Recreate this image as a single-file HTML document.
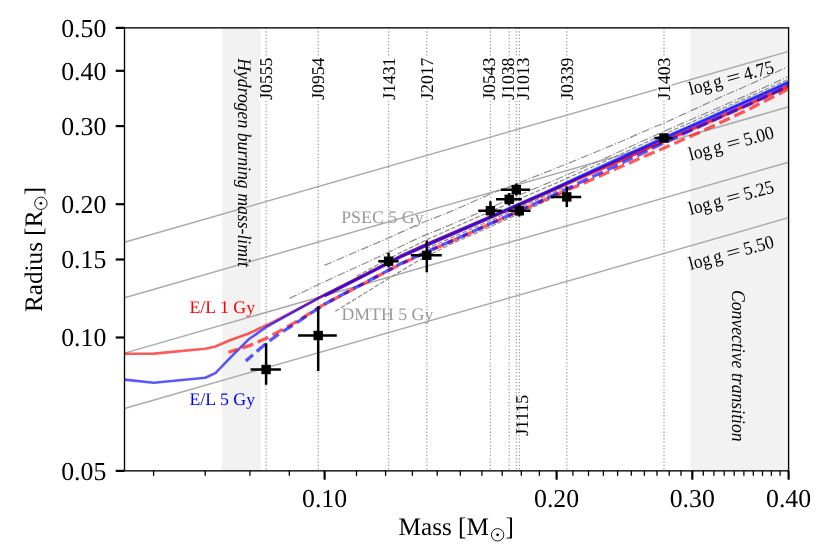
<!DOCTYPE html>
<html><head><meta charset="utf-8"><title>Mass-Radius</title>
<style>html,body{margin:0;padding:0;background:#fff;}svg{display:block;will-change:transform;}text{font-family:"Liberation Serif",serif;text-rendering:geometricPrecision;}</style></head><body>
<svg width="830" height="554" viewBox="0 0 830 554">
<rect x="0" y="0" width="830" height="554" fill="#ffffff"/>
<rect x="222.2" y="27.85" width="38.5" height="443.0" fill="#f2f2f2"/>
<rect x="690.2" y="27.85" width="98.4" height="443.0" fill="#f2f2f2"/>
<defs><clipPath id="c"><rect x="124.5" y="27.85" width="664.1" height="443.0"/></clipPath></defs>
<g clip-path="url(#c)">
<line x1="124.5" y1="242.3" x2="788.6" y2="51.4" stroke="#ababab" stroke-width="1.45"/>
<line x1="124.5" y1="297.7" x2="788.6" y2="106.8" stroke="#ababab" stroke-width="1.45"/>
<line x1="124.5" y1="353.1" x2="788.6" y2="162.2" stroke="#ababab" stroke-width="1.45"/>
<line x1="124.5" y1="408.5" x2="788.6" y2="217.6" stroke="#ababab" stroke-width="1.45"/>
<line x1="266.1" y1="27.85" x2="266.1" y2="470.9" stroke="#9a9a9a" stroke-width="1.25" stroke-dasharray="1.25 2.06"/>
<line x1="318.2" y1="27.85" x2="318.2" y2="470.9" stroke="#9a9a9a" stroke-width="1.25" stroke-dasharray="1.25 2.06"/>
<line x1="388.6" y1="27.85" x2="388.6" y2="470.9" stroke="#9a9a9a" stroke-width="1.25" stroke-dasharray="1.25 2.06"/>
<line x1="426.8" y1="27.85" x2="426.8" y2="470.9" stroke="#9a9a9a" stroke-width="1.25" stroke-dasharray="1.25 2.06"/>
<line x1="490.4" y1="27.85" x2="490.4" y2="470.9" stroke="#9a9a9a" stroke-width="1.25" stroke-dasharray="1.25 2.06"/>
<line x1="509.2" y1="27.85" x2="509.2" y2="470.9" stroke="#9a9a9a" stroke-width="1.25" stroke-dasharray="1.25 2.06"/>
<line x1="516.3" y1="27.85" x2="516.3" y2="470.9" stroke="#9a9a9a" stroke-width="1.25" stroke-dasharray="1.25 2.06"/>
<line x1="519.3" y1="27.85" x2="519.3" y2="470.9" stroke="#9a9a9a" stroke-width="1.25" stroke-dasharray="1.25 2.06"/>
<line x1="566.8" y1="27.85" x2="566.8" y2="470.9" stroke="#9a9a9a" stroke-width="1.25" stroke-dasharray="1.25 2.06"/>
<line x1="664.0" y1="27.85" x2="664.0" y2="470.9" stroke="#9a9a9a" stroke-width="1.25" stroke-dasharray="1.25 2.06"/>
<path d="M324.4,265.4 L388.4,238.0 L420.0,223.6 L446.7,213.1 L460.0,207.5 L489.7,194.3 L520.0,182.5 L566.8,163.9 L620.0,142.0 L650.0,128.7 L663.4,123.4 L720.0,97.4 L750.0,84.4 L787.6,66.8" fill="none" stroke="#8c8c8c" stroke-width="1.2" stroke-dasharray="8 2 1.25 2"/>
<path d="M289.5,298.4 L317.9,284.8 L380.0,256.3 L420.0,237.3 L450.0,225.0 L480.0,212.3 L520.0,194.7 L550.0,182.2 L566.8,174.9 L600.0,160.5 L663.4,131.6 L750.0,93.9 L787.6,76.9" fill="none" stroke="#8c8c8c" stroke-width="1.2" stroke-dasharray="8 2 1.25 2"/>
<path d="M356.7,276.1 L400.0,252.9 L428.0,239.1 L470.0,220.4 L520.0,198.7 L566.8,178.4 L620.0,154.5 L663.4,134.4 L750.0,96.4 L787.6,79.8" fill="none" stroke="#8c8c8c" stroke-width="1.2" stroke-dasharray="4.6 2"/>
<path d="M335.3,311.3 L366.0,292.4 L388.7,278.5 L420.0,259.7 L450.0,244.5 L490.0,226.9 L530.0,208.7 L566.8,191.5" fill="none" stroke="#8c8c8c" stroke-width="1.2" stroke-dasharray="4.6 2"/>
<path d="M426.0,248.7 L450.0,238.4 L490.0,220.7 L530.0,202.9 L566.8,186.5" fill="none" stroke="#8c8c8c" stroke-width="1.2" stroke-dasharray="4.6 2"/>
<path d="M124.5,353.7 L153.8,353.6 L205.3,348.8 L215.4,346.5 L229.9,340.2 L248.7,333.5 L267.5,324.8 L293.5,311.4 L310.0,302.6 L324.5,294.9 L370.0,271.8 L400.0,256.3 L430.0,242.8 L460.0,229.8 L490.0,216.9 L520.0,203.9 L550.0,190.7 L566.8,183.3 L580.0,177.4 L620.0,160.2 L663.4,140.8 L700.0,125.1 L750.0,103.1 L788.4,85.5" fill="none" stroke="rgba(255,0,0,0.65)" stroke-width="2.6" stroke-linejoin="round"/>
<path d="M124.5,379.6 L153.8,382.8 L205.3,377.7 L215.4,373.1 L232.8,355.2 L248.7,339.3 L267.5,326.3 L293.5,311.8 L310.0,302.8 L324.5,294.9 L370.0,271.8 L400.0,256.3 L430.0,242.8 L460.0,229.8 L490.0,216.8 L520.0,203.4 L550.0,190.1 L566.8,182.4 L580.0,176.3 L620.0,157.8 L663.4,137.8 L700.0,121.6 L750.0,99.3 L788.4,81.9" fill="none" stroke="rgba(0,0,255,0.65)" stroke-width="2.6" stroke-linejoin="round"/>
<path d="M324.5,296.1 L370.0,272.9 L400.0,257.4 L430.0,244.0 L460.0,231.0 L490.0,218.1 L520.0,205.0 L550.0,191.8 L566.8,184.4 L580.0,178.6 L620.0,161.3 L663.4,141.9 L700.0,126.2 L750.0,104.2 L788.4,86.6" fill="none" stroke="rgba(255,0,0,0.65)" stroke-width="2.6" stroke-linejoin="round"/>
<path d="M324.5,296.1 L370.0,272.9 L400.0,257.4 L430.0,244.0 L460.0,231.0 L490.0,217.9 L520.0,204.5 L550.0,191.2 L566.8,183.5 L580.0,177.4 L620.0,159.0 L663.4,138.9 L700.0,122.7 L750.0,100.4 L788.4,83.0" fill="none" stroke="rgba(0,0,255,0.65)" stroke-width="2.6" stroke-linejoin="round"/>
<path d="M228.5,352.3 L248.7,345.9 L267.5,337.8 L293.5,323.4 L324.5,304.2 L370.0,280.3 L400.0,264.4 L430.0,250.6 L460.0,237.5 L490.0,224.0 L513.6,213.6 L529.0,206.7 L550.0,197.4 L566.8,190.0 L580.0,184.8 L620.0,167.0 L663.4,148.2 L700.0,132.1 L750.0,108.7 L788.4,88.9" fill="none" stroke="rgba(255,0,0,0.65)" stroke-width="3.3" stroke-dasharray="11.5 5.0" stroke-dashoffset="2"/>
<path d="M245.8,361.0 L267.5,342.2 L282.0,332.0 L293.5,324.8 L324.5,304.2 L370.0,280.0 L400.0,264.1 L430.0,250.3 L460.0,237.2 L490.0,223.7 L513.6,213.3 L529.0,206.3 L550.0,196.8 L566.8,189.0 L580.0,182.5 L620.0,163.9 L663.4,143.1 L700.0,126.3 L750.0,103.9 L788.4,86.1" fill="none" stroke="rgba(0,0,255,0.65)" stroke-width="3.3" stroke-dasharray="11.5 5.0" stroke-dashoffset="2"/>
<line x1="250.6" y1="369.5" x2="280.9" y2="369.5" stroke="#000" stroke-width="2.5"/>
<line x1="266.1" y1="343.2" x2="266.1" y2="384.8" stroke="#000" stroke-width="2.5"/>
<rect x="261.4" y="364.8" width="9.4" height="9.4" fill="#000"/>
<line x1="298.0" y1="335.5" x2="336.8" y2="335.5" stroke="#000" stroke-width="2.5"/>
<line x1="318.2" y1="306.2" x2="318.2" y2="370.9" stroke="#000" stroke-width="2.5"/>
<rect x="313.5" y="330.8" width="9.4" height="9.4" fill="#000"/>
<line x1="378.2" y1="261.2" x2="398.6" y2="261.2" stroke="#000" stroke-width="2.5"/>
<line x1="388.6" y1="253.0" x2="388.6" y2="267.6" stroke="#000" stroke-width="2.5"/>
<rect x="383.9" y="256.5" width="9.4" height="9.4" fill="#000"/>
<line x1="410.8" y1="255.3" x2="441.8" y2="255.3" stroke="#000" stroke-width="2.5"/>
<line x1="426.8" y1="240.5" x2="426.8" y2="272.2" stroke="#000" stroke-width="2.5"/>
<rect x="422.1" y="250.6" width="9.4" height="9.4" fill="#000"/>
<line x1="478.2" y1="210.7" x2="502.1" y2="210.7" stroke="#000" stroke-width="2.5"/>
<line x1="490.4" y1="201.3" x2="490.4" y2="218.0" stroke="#000" stroke-width="2.5"/>
<rect x="485.7" y="206.0" width="9.4" height="9.4" fill="#000"/>
<line x1="496.0" y1="199.3" x2="521.7" y2="199.3" stroke="#000" stroke-width="2.5"/>
<line x1="509.2" y1="192.9" x2="509.2" y2="205.4" stroke="#000" stroke-width="2.5"/>
<rect x="504.5" y="194.6" width="9.4" height="9.4" fill="#000"/>
<line x1="501.0" y1="189.7" x2="530.2" y2="189.7" stroke="#000" stroke-width="2.5"/>
<line x1="516.3" y1="183.5" x2="516.3" y2="195.4" stroke="#000" stroke-width="2.5"/>
<rect x="511.6" y="185.0" width="9.4" height="9.4" fill="#000"/>
<line x1="508.4" y1="210.8" x2="530.5" y2="210.8" stroke="#000" stroke-width="2.5"/>
<line x1="519.3" y1="204.2" x2="519.3" y2="216.6" stroke="#000" stroke-width="2.5"/>
<rect x="514.6" y="206.1" width="9.4" height="9.4" fill="#000"/>
<line x1="550.8" y1="196.9" x2="581.2" y2="196.9" stroke="#000" stroke-width="2.5"/>
<line x1="566.8" y1="186.6" x2="566.8" y2="207.0" stroke="#000" stroke-width="2.5"/>
<rect x="562.1" y="192.2" width="9.4" height="9.4" fill="#000"/>
<line x1="654.3" y1="138.0" x2="673.0" y2="138.0" stroke="#000" stroke-width="2.5"/>
<line x1="664.0" y1="134.0" x2="664.0" y2="142.0" stroke="#000" stroke-width="2.5"/>
<rect x="659.3" y="133.3" width="9.4" height="9.4" fill="#000"/>
</g>
<rect x="259.2" y="56.4" width="14.6" height="44.6" fill="#fff" fill-opacity="0.85"/>
<text transform="translate(272.2,99.8) rotate(-90) scale(1,1.02)" font-size="17.7" fill="#000">J0555</text>
<rect x="311.3" y="56.4" width="14.6" height="44.6" fill="#fff" fill-opacity="0.85"/>
<text transform="translate(324.3,99.8) rotate(-90) scale(1,1.02)" font-size="17.7" fill="#000">J0954</text>
<rect x="381.7" y="56.4" width="14.6" height="44.6" fill="#fff" fill-opacity="0.85"/>
<text transform="translate(394.7,99.8) rotate(-90) scale(1,1.02)" font-size="17.7" fill="#000">J1431</text>
<rect x="419.9" y="56.4" width="14.6" height="44.6" fill="#fff" fill-opacity="0.85"/>
<text transform="translate(432.9,99.8) rotate(-90) scale(1,1.02)" font-size="17.7" fill="#000">J2017</text>
<rect x="481.5" y="56.4" width="14.6" height="44.6" fill="#fff" fill-opacity="0.85"/>
<text transform="translate(494.5,99.8) rotate(-90) scale(1,1.02)" font-size="17.7" fill="#000">J0543</text>
<rect x="500.8" y="56.4" width="14.6" height="44.6" fill="#fff" fill-opacity="0.85"/>
<text transform="translate(513.8,99.8) rotate(-90) scale(1,1.02)" font-size="17.7" fill="#000">J1038</text>
<rect x="516.1" y="56.4" width="14.6" height="44.6" fill="#fff" fill-opacity="0.85"/>
<text transform="translate(529.1,99.8) rotate(-90) scale(1,1.02)" font-size="17.7" fill="#000">J1013</text>
<text transform="translate(528.0,435.8) rotate(-90) scale(1,1.02)" font-size="17.7" fill="#000">J1115</text>
<rect x="559.9" y="56.4" width="14.6" height="44.6" fill="#fff" fill-opacity="0.85"/>
<text transform="translate(572.9,99.8) rotate(-90) scale(1,1.02)" font-size="17.7" fill="#000">J0339</text>
<rect x="657.1" y="56.4" width="14.6" height="44.6" fill="#fff" fill-opacity="0.85"/>
<text transform="translate(670.1,99.8) rotate(-90) scale(1,1.02)" font-size="17.7" fill="#000">J1403</text>
<text transform="translate(238.2,58.2) rotate(90) scale(1,1.08)" font-size="17.7" font-style="italic" fill="#000">Hydrogen burning mass-limit</text>
<text transform="translate(732.0,289.9) rotate(90) scale(1,1.1)" font-size="17.7" font-style="italic" fill="#000">Convective transition</text>
<text x="189.4" y="312.6" font-size="17.7" fill="#ff0000" textLength="65.7" lengthAdjust="spacingAndGlyphs">E/L 1 Gy</text>
<text x="189.4" y="405.0" font-size="17.7" fill="#0000ff" textLength="65.7" lengthAdjust="spacingAndGlyphs">E/L 5 Gy</text>
<text x="341.2" y="222.7" font-size="17.7" fill="#999999" textLength="82.4" lengthAdjust="spacingAndGlyphs">PSEC 5 Gy</text>
<text x="341.4" y="319.6" font-size="17.7" fill="#999999" textLength="92.0" lengthAdjust="spacingAndGlyphs">DMTH 5 Gy</text>
<g transform="translate(690.6,95.0) rotate(-15.0) scale(1,1.07)" font-size="17.7" fill="#000"><text x="0" y="0" textLength="22.2" lengthAdjust="spacingAndGlyphs">log</text><text x="25.1" y="0">g</text><text transform="translate(39.1,0) scale(1.42,1)" x="0" y="0">=</text><text x="56.5" y="0">4.75</text></g>
<g transform="translate(690.6,160.5) rotate(-15.0) scale(1,1.07)" font-size="17.7" fill="#000"><text x="0" y="0" textLength="22.2" lengthAdjust="spacingAndGlyphs">log</text><text x="25.1" y="0">g</text><text transform="translate(39.1,0) scale(1.42,1)" x="0" y="0">=</text><text x="56.5" y="0">5.00</text></g>
<g transform="translate(690.6,214.9) rotate(-15.0) scale(1,1.07)" font-size="17.7" fill="#000"><text x="0" y="0" textLength="22.2" lengthAdjust="spacingAndGlyphs">log</text><text x="25.1" y="0">g</text><text transform="translate(39.1,0) scale(1.42,1)" x="0" y="0">=</text><text x="56.5" y="0">5.25</text></g>
<g transform="translate(690.6,269.9) rotate(-15.0) scale(1,1.07)" font-size="17.7" fill="#000"><text x="0" y="0" textLength="22.2" lengthAdjust="spacingAndGlyphs">log</text><text x="25.1" y="0">g</text><text transform="translate(39.1,0) scale(1.42,1)" x="0" y="0">=</text><text x="56.5" y="0">5.50</text></g>
<rect x="124.5" y="27.85" width="664.1" height="443.0" fill="none" stroke="#000" stroke-width="1.35"/>
<line x1="115.7" y1="470.9" x2="124.5" y2="470.9" stroke="#000" stroke-width="2.2"/>
<text x="106.3" y="479.6" font-size="25.8" text-anchor="end" fill="#000">0.05</text>
<line x1="115.7" y1="337.5" x2="124.5" y2="337.5" stroke="#000" stroke-width="2.2"/>
<text x="106.3" y="346.2" font-size="25.8" text-anchor="end" fill="#000">0.10</text>
<line x1="115.7" y1="259.5" x2="124.5" y2="259.5" stroke="#000" stroke-width="2.2"/>
<text x="106.3" y="268.2" font-size="25.8" text-anchor="end" fill="#000">0.15</text>
<line x1="115.7" y1="204.2" x2="124.5" y2="204.2" stroke="#000" stroke-width="2.2"/>
<text x="106.3" y="212.9" font-size="25.8" text-anchor="end" fill="#000">0.20</text>
<line x1="115.7" y1="126.1" x2="124.5" y2="126.1" stroke="#000" stroke-width="2.2"/>
<text x="106.3" y="134.8" font-size="25.8" text-anchor="end" fill="#000">0.30</text>
<line x1="115.7" y1="70.8" x2="124.5" y2="70.8" stroke="#000" stroke-width="2.2"/>
<text x="106.3" y="79.5" font-size="25.8" text-anchor="end" fill="#000">0.40</text>
<line x1="115.7" y1="27.9" x2="124.5" y2="27.9" stroke="#000" stroke-width="2.2"/>
<text x="106.3" y="36.5" font-size="25.8" text-anchor="end" fill="#000">0.50</text>
<line x1="324.6" y1="470.9" x2="324.6" y2="479.7" stroke="#000" stroke-width="2.2"/>
<text x="324.6" y="506.6" font-size="25.8" text-anchor="middle" fill="#000">0.10</text>
<line x1="556.6" y1="470.9" x2="556.6" y2="479.7" stroke="#000" stroke-width="2.2"/>
<text x="556.6" y="506.6" font-size="25.8" text-anchor="middle" fill="#000">0.20</text>
<line x1="692.3" y1="470.9" x2="692.3" y2="479.7" stroke="#000" stroke-width="2.2"/>
<text x="692.3" y="506.6" font-size="25.8" text-anchor="middle" fill="#000">0.30</text>
<line x1="788.6" y1="470.9" x2="788.6" y2="479.7" stroke="#000" stroke-width="2.2"/>
<text x="788.6" y="506.6" font-size="25.8" text-anchor="middle" fill="#000">0.40</text>
<line x1="153.6" y1="470.9" x2="153.6" y2="475.8" stroke="#000" stroke-width="1.3"/>
<line x1="205.2" y1="470.9" x2="205.2" y2="475.8" stroke="#000" stroke-width="1.3"/>
<line x1="249.9" y1="470.9" x2="249.9" y2="475.8" stroke="#000" stroke-width="1.3"/>
<line x1="289.3" y1="470.9" x2="289.3" y2="475.8" stroke="#000" stroke-width="1.3"/>
<line x1="356.5" y1="470.9" x2="356.5" y2="475.8" stroke="#000" stroke-width="1.3"/>
<line x1="385.6" y1="470.9" x2="385.6" y2="475.8" stroke="#000" stroke-width="1.3"/>
<line x1="412.4" y1="470.9" x2="412.4" y2="475.8" stroke="#000" stroke-width="1.3"/>
<line x1="437.2" y1="470.9" x2="437.2" y2="475.8" stroke="#000" stroke-width="1.3"/>
<line x1="460.3" y1="470.9" x2="460.3" y2="475.8" stroke="#000" stroke-width="1.3"/>
<line x1="481.9" y1="470.9" x2="481.9" y2="475.8" stroke="#000" stroke-width="1.3"/>
<line x1="502.2" y1="470.9" x2="502.2" y2="475.8" stroke="#000" stroke-width="1.3"/>
<line x1="521.3" y1="470.9" x2="521.3" y2="475.8" stroke="#000" stroke-width="1.3"/>
<line x1="539.4" y1="470.9" x2="539.4" y2="475.8" stroke="#000" stroke-width="1.3"/>
<line x1="572.9" y1="470.9" x2="572.9" y2="475.8" stroke="#000" stroke-width="1.3"/>
<line x1="588.5" y1="470.9" x2="588.5" y2="475.8" stroke="#000" stroke-width="1.3"/>
<line x1="603.4" y1="470.9" x2="603.4" y2="475.8" stroke="#000" stroke-width="1.3"/>
<line x1="617.6" y1="470.9" x2="617.6" y2="475.8" stroke="#000" stroke-width="1.3"/>
<line x1="631.3" y1="470.9" x2="631.3" y2="475.8" stroke="#000" stroke-width="1.3"/>
<line x1="644.4" y1="470.9" x2="644.4" y2="475.8" stroke="#000" stroke-width="1.3"/>
<line x1="657.0" y1="470.9" x2="657.0" y2="475.8" stroke="#000" stroke-width="1.3"/>
<line x1="669.2" y1="470.9" x2="669.2" y2="475.8" stroke="#000" stroke-width="1.3"/>
<line x1="681.0" y1="470.9" x2="681.0" y2="475.8" stroke="#000" stroke-width="1.3"/>
<line x1="703.3" y1="470.9" x2="703.3" y2="475.8" stroke="#000" stroke-width="1.3"/>
<line x1="713.9" y1="470.9" x2="713.9" y2="475.8" stroke="#000" stroke-width="1.3"/>
<line x1="724.2" y1="470.9" x2="724.2" y2="475.8" stroke="#000" stroke-width="1.3"/>
<line x1="734.2" y1="470.9" x2="734.2" y2="475.8" stroke="#000" stroke-width="1.3"/>
<line x1="743.9" y1="470.9" x2="743.9" y2="475.8" stroke="#000" stroke-width="1.3"/>
<line x1="753.3" y1="470.9" x2="753.3" y2="475.8" stroke="#000" stroke-width="1.3"/>
<line x1="762.5" y1="470.9" x2="762.5" y2="475.8" stroke="#000" stroke-width="1.3"/>
<line x1="771.4" y1="470.9" x2="771.4" y2="475.8" stroke="#000" stroke-width="1.3"/>
<line x1="780.1" y1="470.9" x2="780.1" y2="475.8" stroke="#000" stroke-width="1.3"/>
<text x="398.6" y="534.9" font-size="25.2" fill="#000">Mass [M</text>
<circle cx="497.6" cy="534.8" r="6.2" fill="none" stroke="#000" stroke-width="0.9"/><circle cx="497.6" cy="534.8" r="1.4" fill="#000"/>
<text x="505.6" y="534.9" font-size="25.2" fill="#000">]</text>
<g transform="translate(41.9,312.0) rotate(-90)"><text x="0" y="0" font-size="25.2" fill="#000">Radius [R</text><circle cx="108.7" cy="-1.0" r="6.2" fill="none" stroke="#000" stroke-width="0.9"/><circle cx="108.7" cy="-1.0" r="1.4" fill="#000"/><text x="116.8" y="0" font-size="25.2" fill="#000">]</text></g>
</svg></body></html>
